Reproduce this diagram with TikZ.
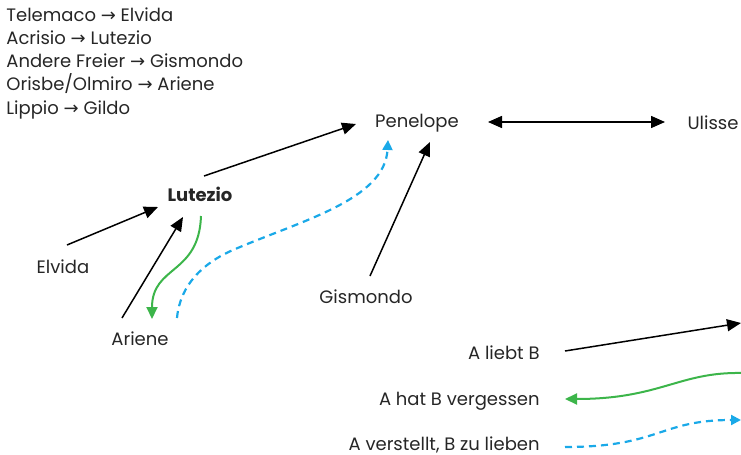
\documentclass[tikz,border=0pt]{standalone}
\usepackage{fontspec}
\setmainfont{Poppins}
\newfontfamily\arrowfont{DejaVu Sans}
\usetikzlibrary{arrows.meta}
\definecolor{liebegruen}{HTML}{3CB54A}
\definecolor{spielblau}{HTML}{1AA9E8}
\newcommand{\ra}{{\arrowfont\char"2192}}

\begin{document}
\begin{tikzpicture}[x=0.5pt,y=-0.5pt]
				\tikzstyle{every node}=[inner sep=0pt,font=\fontsize{9}{11.65}\selectfont,text=black!85]
				\tikzstyle{liebt}=[line width=0.75pt,-{Triangle[length=7pt,width=6pt]}]
				\tikzstyle{vergessen}=[line width=1pt,liebegruen,-{Triangle[length=6pt,width=5.5pt]}]
				\tikzstyle{verstellt}=[line width=1.1pt,spielblau,dash pattern=on 3.5pt off 2.5pt,-{Triangle[length=5pt,width=5pt]}]
				\useasboundingbox (0,0) rectangle (741,455);
				\node[anchor=north west,align=left] (namen) at (6,7) {Telemaco \ra{} Elvida\\Acrisio \ra{} Lutezio\\Andere Freier \ra{} Gismondo\\Orisbe/Olmiro \ra{} Ariene\\Lippio \ra{} Gildo};
				\node (penelope) at (417,123) {Penelope};
				\node (ulisse) at (713,123) {Ulisse};
				\node[font=\fontsize{9}{11.65}\selectfont\bfseries] (lutezio) at (200,194) {Lutezio};
				\node (elvida) at (63,267) {Elvida};
				\node (ariene) at (140,339) {Ariene};
				\node (gismondo) at (366,297) {Gismondo};
				\node[anchor=east] (lliebt) at (540,353) {A liebt B};
				\node[anchor=east] (lvergessen) at (540,401) {A hat B vergessen};
				\node[anchor=east] (lverstellt) at (540,445) {A verstellt, B zu lieben};
				\coordinate (eliebt) at (741,323);
				\coordinate (evergessen) at (741,373);
				\coordinate (everstellt) at (741,420);
				\draw[liebt] ([shift={(4,-18)}]lutezio.center) -- ([shift={(-61,1)}]penelope.center);
				\draw[liebt,{Triangle[length=7pt,width=6pt]}-{Triangle[length=7pt,width=6pt]}] ([shift={(71,-1)}]penelope.center) -- ([shift={(-48,-1)}]ulisse.center);
				\draw[liebt] ([shift={(4,-22)}]elvida.center) -- ([shift={(-42,13)}]lutezio.center);
				\draw[liebt] ([shift={(-18,-21)}]ariene.center) -- ([shift={(-17,23)}]lutezio.center);
				\draw[liebt] ([shift={(4,-21)}]gismondo.center) -- ([shift={(13,19)}]penelope.center);
				\draw[vergessen] ([shift={(1,22)}]lutezio.center) .. controls +(-2,59) and +(0,-54) .. ([shift={(12,-20)}]ariene.center);
				\draw[verstellt] ([shift={(37,-21)}]ariene.center) .. controls +(3,-33) and +(-30,13) .. (233,250) .. controls +(67,-29) and +(-3,60) .. ([shift={(-29,17)}]penelope.center);
				% Legende
				\draw[liebt] ([shift={(25,-2)}]lliebt.east) -- (eliebt);
				\draw[vergessen] (evergessen) .. controls +(-62,-1) and +(95,0) .. ([shift={(25,-2)}]lvergessen.east);
				\draw[verstellt] ([shift={(25,2)}]lverstellt.east) .. controls +(95,0) and +(-82,0) .. (everstellt);
\end{tikzpicture}
\end{document}
